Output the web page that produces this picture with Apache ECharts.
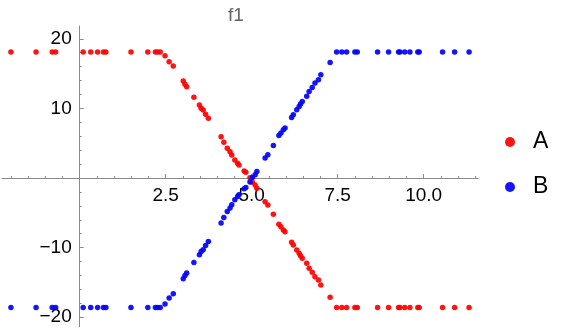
<!DOCTYPE html>
<html>
<head>
<meta charset="utf-8">
<script src="https://cdn.jsdelivr.net/npm/echarts@6/dist/echarts.min.js"></script>
<style>
html,body{margin:0;padding:0;background:#fff;}
#chart{width:563px;height:333px;}
</style>
</head>
<body>
<div id="chart"></div>
<script>
// Shared x values for both series
var xs = [-2.00,-1.27,-0.80,-0.70,0.10,0.32,0.52,0.69,0.76,1.49,1.98,2.20,2.26,2.34,
  2.48,2.60,2.72,3.01,3.06,3.11,3.32,3.48,3.53,3.59,3.66,3.74,4.11,4.19,4.29,4.37,4.42,
  4.51,4.59,4.63,4.78,4.83,4.95,5.02,5.10,5.15,5.39,5.47,5.63,5.79,5.85,5.92,5.97,6.16,
  6.21,6.31,6.38,6.42,6.47,6.60,6.67,6.76,6.84,6.94,7.01,7.28,
  7.47,7.62,7.76,8.00,8.07,8.66,8.98,9.27,9.31,9.45,9.60,9.83,9.87,10.55,10.90,11.32];
var seriesA = [18.1,18.1,18.1,18.1,18.1,18.1,18.1,18.1,18.1,18.1,18.1,18.1,18.1,18.1,
  17.57,16.71,16.09,13.94,13.46,13.12,11.59,10.49,10.01,9.77,9.15,8.58,5.93,5.13,4.27,3.78,3.30,
  2.59,2.11,1.87,1.01,0.82,0.04,-0.62,-1.01,-1.48,-3.41,-3.88,-5.22,-6.65,-7.00,-7.47,-7.72,-9.24,
  -9.63,-10.34,-10.82,-11.16,-11.54,-12.26,-12.97,-13.55,-14.18,-14.66,-15.37,-17.14,
  -18.6,-18.6,-18.6,-18.6,-18.6,-18.6,-18.6,-18.6,-18.6,-18.6,-18.6,-18.6,-18.6,-18.6,-18.6,-18.6];
var seriesB = [-18.6,-18.6,-18.6,-18.6,-18.6,-18.6,-18.6,-18.6,-18.6,-18.6,-18.6,-18.6,-18.6,-18.6,
  -18.10,-17.24,-16.62,-14.47,-13.99,-13.65,-12.12,-11.02,-10.54,-10.30,-9.68,-9.11,-6.46,-5.66,-4.80,-4.31,-3.83,
  -3.12,-2.64,-2.40,-1.54,-1.35,-0.57,0.09,0.48,0.95,2.88,3.35,4.69,6.12,6.47,6.94,7.19,8.71,
  9.10,9.81,10.29,10.63,11.01,11.73,12.44,13.02,13.65,14.13,14.84,16.61,
  18.1,18.1,18.1,18.1,18.1,18.1,18.1,18.1,18.1,18.1,18.1,18.1,18.1,18.1,18.1,18.1];
var seriesNames = ['A','B'];
var xMajor = [2.5,5,7.5,10];
var xMinor = [-2,-1.5,-1,-0.5,0.5,1,1.5,2,3,3.5,4,4.5,5.5,6,6.5,7,8,8.5,9,9.5,10.5,11,11.5];
var yMajor = [-20,-10,10,20];
var yMinor = [-18,-16,-14,-12,-8,-6,-4,-2,2,4,6,8,12,14,16,18];
var xRange = [-2.26, 11.58];
var yRange = [-21.36, 21.84];

var axisColor = '#8a8a8a';
var font = 'Liberation Sans, Arial, sans-serif';
function fmtY(v){ return v < 0 ? '\u2212' + (-v) : '' + v; }

// plot area geometry
var G = {left:2, top:26, width:476, height:300.7};
var xPerUnit = G.width / (xRange[1] - xRange[0]);
var yPerUnit = G.height / (yRange[1] - yRange[0]);
var zeroX = G.left + (0 - xRange[0]) * xPerUnit;   // pixel of x = 0
var zeroY = G.top + (yRange[1] - 0) * yPerUnit;    // pixel of y = 0

function hiddenAxis(type, gi, range){
  return {type:'value', gridIndex:gi, min:range[0], max:range[1], show:false,
    axisLine:{show:false,onZero:false}, axisTick:{show:false}, axisLabel:{show:false}, splitLine:{show:false}};
}

var chart = echarts.init(document.getElementById('chart'), null, {renderer:'canvas'});
chart.setOption({
  animation: false,
  backgroundColor: '#fff',
  title: {text:'f1', left:228, top:6, padding:0,
    textStyle:{fontFamily:font, fontSize:19, fontWeight:'normal', color:'#666'}},
  legend: {data: seriesNames, orient:'vertical', left:500, top:125.5, itemWidth:36, itemHeight:10,
    itemGap:22, icon:'circle',
    textStyle:{fontFamily:font, fontSize:23, lineHeight:23, color:'#000'}},
  grid: [
    {left:G.left, top:G.top, width:G.width, height:G.height, containLabel:false, outerBoundsMode:'none'},
    {left:G.left, top:G.top, width:G.width, height:zeroY - G.top, containLabel:false, outerBoundsMode:'none'},
    {left:zeroX, top:G.top, width:G.left + G.width - zeroX, height:G.height, containLabel:false, outerBoundsMode:'none'}
  ],
  xAxis: [
    hiddenAxis('x', 0, xRange),
    {type:'value', gridIndex:1, min:xRange[0], max:xRange[1], position:'bottom',
     axisLine:{show:true, onZero:false, lineStyle:{color:axisColor, width:1}},
     axisTick:{show:true, inside:true, length:4, customValues:xMajor, lineStyle:{color:axisColor}},
     axisLabel:{show:true, customValues:xMajor, margin:8, formatter:function(v){return v.toFixed(1);},
       fontFamily:font, fontSize:19, color:'#000'},
     splitLine:{show:false}},
    {type:'value', gridIndex:1, min:xRange[0], max:xRange[1], position:'bottom',
     axisLine:{show:false, onZero:false},
     axisTick:{show:true, inside:true, length:2, customValues:xMinor, lineStyle:{color:axisColor}},
     axisLabel:{show:false}, splitLine:{show:false}},
    hiddenAxis('x', 2, [0, 1])
  ],
  yAxis: [
    hiddenAxis('y', 0, yRange),
    hiddenAxis('y', 1, [0, 1]),
    {type:'value', gridIndex:2, min:yRange[0], max:yRange[1], position:'left',
     axisLine:{show:true, onZero:false, lineStyle:{color:axisColor, width:1}},
     axisTick:{show:true, inside:true, length:4, customValues:yMajor, lineStyle:{color:axisColor}},
     axisLabel:{show:true, customValues:yMajor, margin:8, formatter:fmtY,
       fontFamily:font, fontSize:19, color:'#000'},
     splitLine:{show:false}},
    {type:'value', gridIndex:2, min:yRange[0], max:yRange[1], position:'left',
     axisLine:{show:false, onZero:false},
     axisTick:{show:true, inside:true, length:2, customValues:yMinor, lineStyle:{color:axisColor}},
     axisLabel:{show:false}, splitLine:{show:false}}
  ],
  series: [
    {name:seriesNames[0], type:'scatter', xAxisIndex:0, yAxisIndex:0, symbolSize:5.5, z:5,
     itemStyle:{color:'#ff0000', opacity:0.92},
     data: xs.map(function(x,i){return [x, seriesA[i]];})},
    {name:seriesNames[1], type:'scatter', xAxisIndex:0, yAxisIndex:0, symbolSize:5.5, z:5,
     itemStyle:{color:'#0000ff', opacity:0.92},
     data: xs.map(function(x,i){return [x, seriesB[i]];})}
  ]
});
</script>
</body>
</html>
